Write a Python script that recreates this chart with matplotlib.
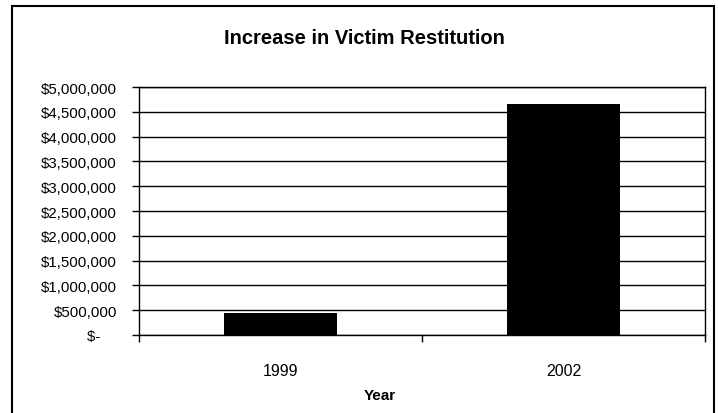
import matplotlib
matplotlib.use('Agg')
from matplotlib import pyplot as plt
from matplotlib.ticker import FuncFormatter, FixedLocator
from matplotlib.patches import Rectangle

years = ['1999', '2002']
restitution = [440000, 4660000]


def money(v, pos):
    # accounting style: zero shows as a dash, padded like two digits
    if v == 0:
        return '$-    '
    return '${:,.0f}'.format(v)


plt.rcParams['font.family'] = ['Liberation Sans', 'DejaVu Sans']

fig = plt.figure(figsize=(7.18, 4.14), dpi=100)
fig.patches.append(Rectangle((12 / 718, -0.01), 702 / 718, 1 - 7 / 414 + 0.01,
                             transform=fig.transFigure, fill=False,
                             edgecolor='black', linewidth=1.5))

ax = fig.add_axes([139 / 718, 1 - 336 / 414, 566 / 718, 248 / 414])
pos = list(range(len(years)))
ax.bar(pos, restitution, width=0.4, color='black', zorder=3)

ax.set_xlim(-0.5, len(years) - 0.5)
ax.set_ylim(0, 5000000)
ax.yaxis.set_major_locator(FixedLocator([i * 500000 for i in range(11)]))
ax.yaxis.set_major_formatter(FuncFormatter(money))
ax.grid(axis='y', color='black', linewidth=1, zorder=0)

ax.xaxis.set_major_locator(FixedLocator([p - 0.5 for p in pos] + [len(years) - 0.5]))
ax.xaxis.set_major_formatter(FuncFormatter(lambda v, p: ''))
ax.xaxis.set_minor_locator(FixedLocator(pos))
ax.set_xticklabels(years, minor=True)
ax.tick_params(axis='x', which='minor', length=0, pad=20, labelsize=11.5)
ax.tick_params(axis='x', which='major', length=5, width=1, direction='out')
ax.tick_params(axis='y', length=5, width=1, direction='out', labelsize=10.8, pad=10.8)

for s in ax.spines.values():
    s.set_linewidth(1)
    s.set_color('black')

fig.text(380 / 718, 1 - 396 / 414, 'Year', ha='center', va='center',
         fontsize=11, fontweight='bold')
fig.text(364 / 718, 1 - 39 / 414, 'Increase in Victim Restitution',
         ha='center', va='center', fontsize=14.5, fontweight='bold')

fig.savefig('out.png', dpi=100)
